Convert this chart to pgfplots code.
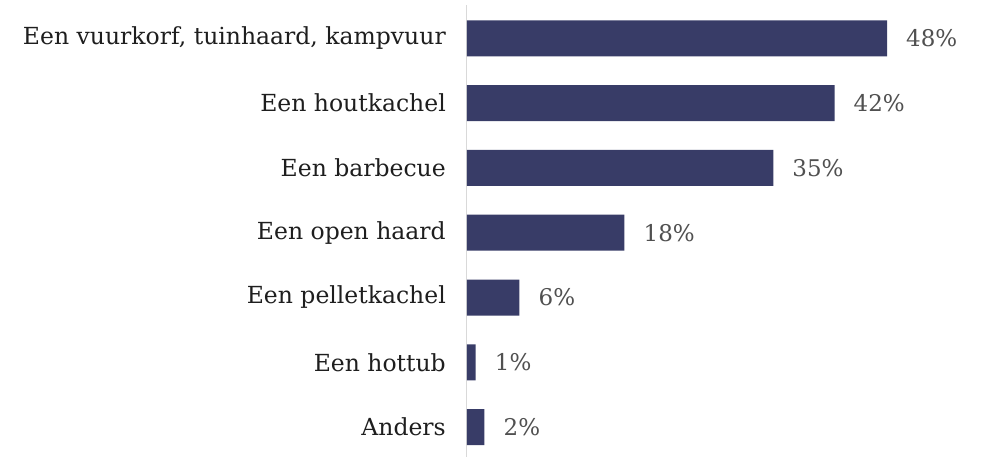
\documentclass[border=0pt]{standalone}
\usepackage{pgfplots}
\pgfplotsset{compat=1.18}
\usepackage{fontspec}
\setmainfont{DejaVu Serif}
\definecolor{barc}{HTML}{383C67}
\definecolor{lab}{HTML}{1E1E1E}
\definecolor{val}{HTML}{505050}
\begin{document}
\begin{tikzpicture}
\useasboundingbox (-467pt,0pt) rectangle (517pt,457pt);
\begin{axis}[
  at={(0pt,0pt)}, anchor=south west,
  scale only axis, width=420pt, height=452pt,
  xmin=0, xmax=48,
  ymin=-0.463, ymax=6.517,
  hide x axis,
  axis y line*=left,
  y axis line style={draw=black!15, line width=1pt, -},
  ytick={0,1,2,3,4,5,6},
  yticklabels={Anders, Een hottub, Een pelletkachel, Een open haard, Een barbecue, Een houtkachel, {Een vuurkorf, tuinhaard, kampvuur}},
  major tick length=0pt,
  yticklabel style={font=\fontsize{23.5}{26}\selectfont, text=lab, inner sep=0pt, xshift=-21pt},
  xbar, bar width=36pt,
  clip=false,
  point meta=x,
  /pgf/number format/assume math mode=true,
  nodes near coords={\pgfmathprintnumber{\pgfplotspointmeta}\%},
  nodes near coords style={font=\fontsize{23}{26}\selectfont, text=val, anchor=west, inner sep=0pt, xshift=19pt},
]
\addplot[fill=barc, draw=none] coordinates {(2,0) (1,1) (6,2) (18,3) (35,4) (42,5) (48,6)};
\end{axis}
\end{tikzpicture}
\end{document}
